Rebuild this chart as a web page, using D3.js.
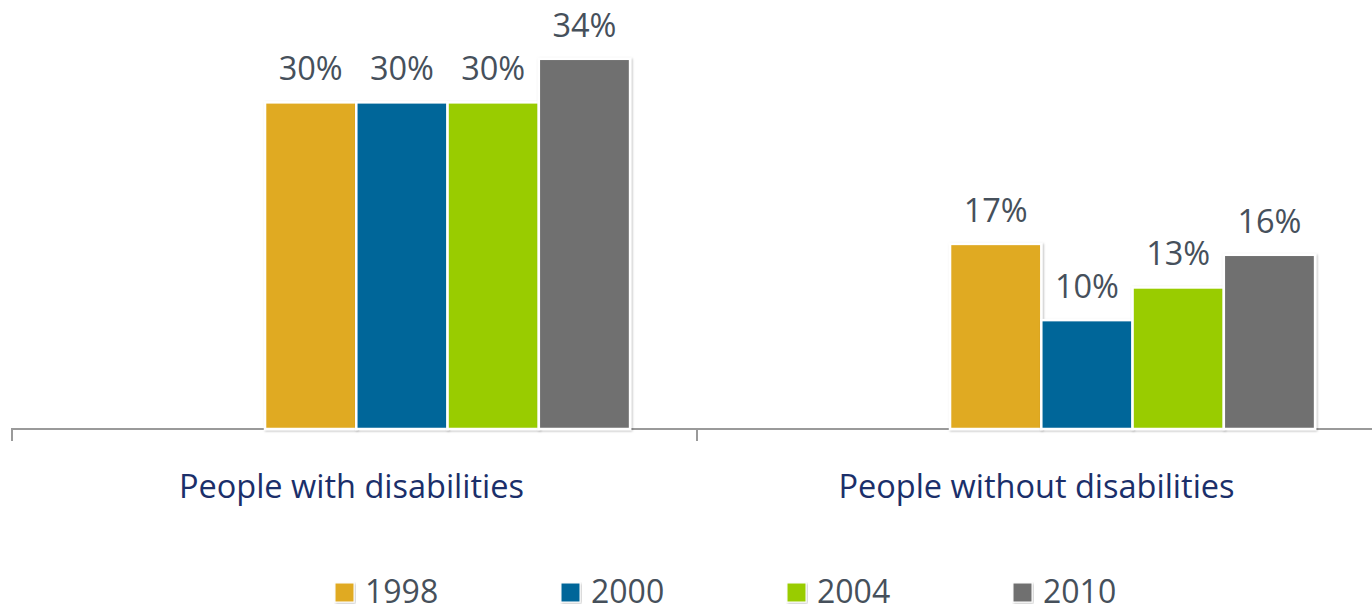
<!DOCTYPE html>
<html>
<head>
<meta charset="utf-8">
<script src="https://cdn.jsdelivr.net/npm/d3@7"></script>
<style>
  html, body { margin: 0; padding: 0; background: #ffffff; }
  svg { display: block; }
  text { font-family: "Open Sans", "Noto Sans", sans-serif; }
</style>
</head>
<body>
<svg id="chart" width="1372" height="607"></svg>
<script>
// Share of people, by disability status and survey year
const categories = ["People with disabilities", "People without disabilities"];
const years = ["1998", "2000", "2004", "2010"];
const withDisabilities = [30, 30, 30, 34];
const withoutDisabilities = [17, 10, 13, 16];
const seriesColors = ["#E0AA22", "#006699", "#99CC00", "#707070"];

const values = [withDisabilities, withoutDisabilities];

const svg = d3.select("#chart");
const baseY = 429;

const defs = svg.append("defs");
const shadow = defs.append("filter").attr("id", "barShadow")
  .attr("x", "-5%").attr("y", "-5%").attr("width", "115%").attr("height", "115%");
shadow.append("feDropShadow")
  .attr("dx", 1).attr("dy", 1).attr("stdDeviation", 1)
  .attr("flood-color", "#000").attr("flood-opacity", 0.28);

const x0 = d3.scaleBand().domain(categories).range([12, 1382]).padding(0);
const bw = x0.bandwidth();
const x1 = d3.scaleBand().domain(years).range([bw * 0.3694, bw * 0.9023]).padding(0);
const y = d3.scaleLinear().domain([0, 39.4]).range([baseY, 0]);

// category axis
const axis = d3.axisBottom(x0).tickSize(12).tickSizeOuter(12).tickFormat("");
const axisG = svg.append("g").attr("transform", `translate(0,${baseY})`).call(axis);
axisG.select(".domain").attr("stroke", "#9a9a9a").attr("stroke-width", 2)
  .attr("d", `M12,12V0H1382`);
axisG.selectAll(".tick").remove();
// boundary ticks between categories
const tickXs = [x0(categories[0]), x0(categories[1])];
axisG.selectAll("line.bound").data(tickXs).join("line")
  .attr("class", "bound")
  .attr("x1", d => d).attr("x2", d => d)
  .attr("y1", 0).attr("y2", 12)
  .attr("stroke", "#9a9a9a").attr("stroke-width", 2);

// bars
const groups = svg.selectAll("g.cat").data(categories).join("g")
  .attr("class", "cat")
  .attr("transform", d => `translate(${x0(d)},0)`);

groups.each(function(cat, ci) {
  const g = d3.select(this);
  const data = years.map((yr, i) => ({ yr, v: values[ci][i], c: seriesColors[i] }));
  g.selectAll("rect").data(data).join("rect")
    .attr("x", d => x1(d.yr))
    .attr("y", d => y(d.v))
    .attr("width", x1.bandwidth())
    .attr("height", d => baseY - y(d.v))
    .attr("fill", d => d.c)
    .attr("stroke", "#ffffff")
    .attr("stroke-width", 2.5)
    .attr("filter", "url(#barShadow)");
  g.selectAll("text.val").data(data).join("text")
    .attr("class", "val")
    .attr("x", d => x1(d.yr) + x1.bandwidth() / 2)
    .attr("y", d => y(d.v) - 22)
    .attr("text-anchor", "middle")
    .attr("font-size", 32.5)
    .attr("fill", "#46505b")
    .text(d => d.v + "%");
});

// category labels
svg.selectAll("text.cat").data(categories).join("text")
  .attr("class", "cat")
  .attr("x", d => x0(d) + bw / 2 - 3)
  .attr("y", 498)
  .attr("text-anchor", "middle")
  .attr("font-size", 32.5)
  .attr("fill", "#1b2f6a")
  .text(d => d);

// legend
const legend = svg.append("g").attr("transform", "translate(335,583)");
const item = legend.selectAll("g").data(years).join("g")
  .attr("transform", (d, i) => `translate(${i * 226},0)`);
item.append("rect")
  .attr("width", 19).attr("height", 19)
  .attr("fill", (d, i) => seriesColors[i])
  .attr("stroke", "#ffffff").attr("stroke-width", 1)
  .attr("filter", "url(#barShadow)");
item.append("text")
  .attr("x", 30).attr("y", 20)
  .attr("font-size", 32)
  .attr("fill", "#46505b")
  .text(d => d);
</script>
</body>
</html>
